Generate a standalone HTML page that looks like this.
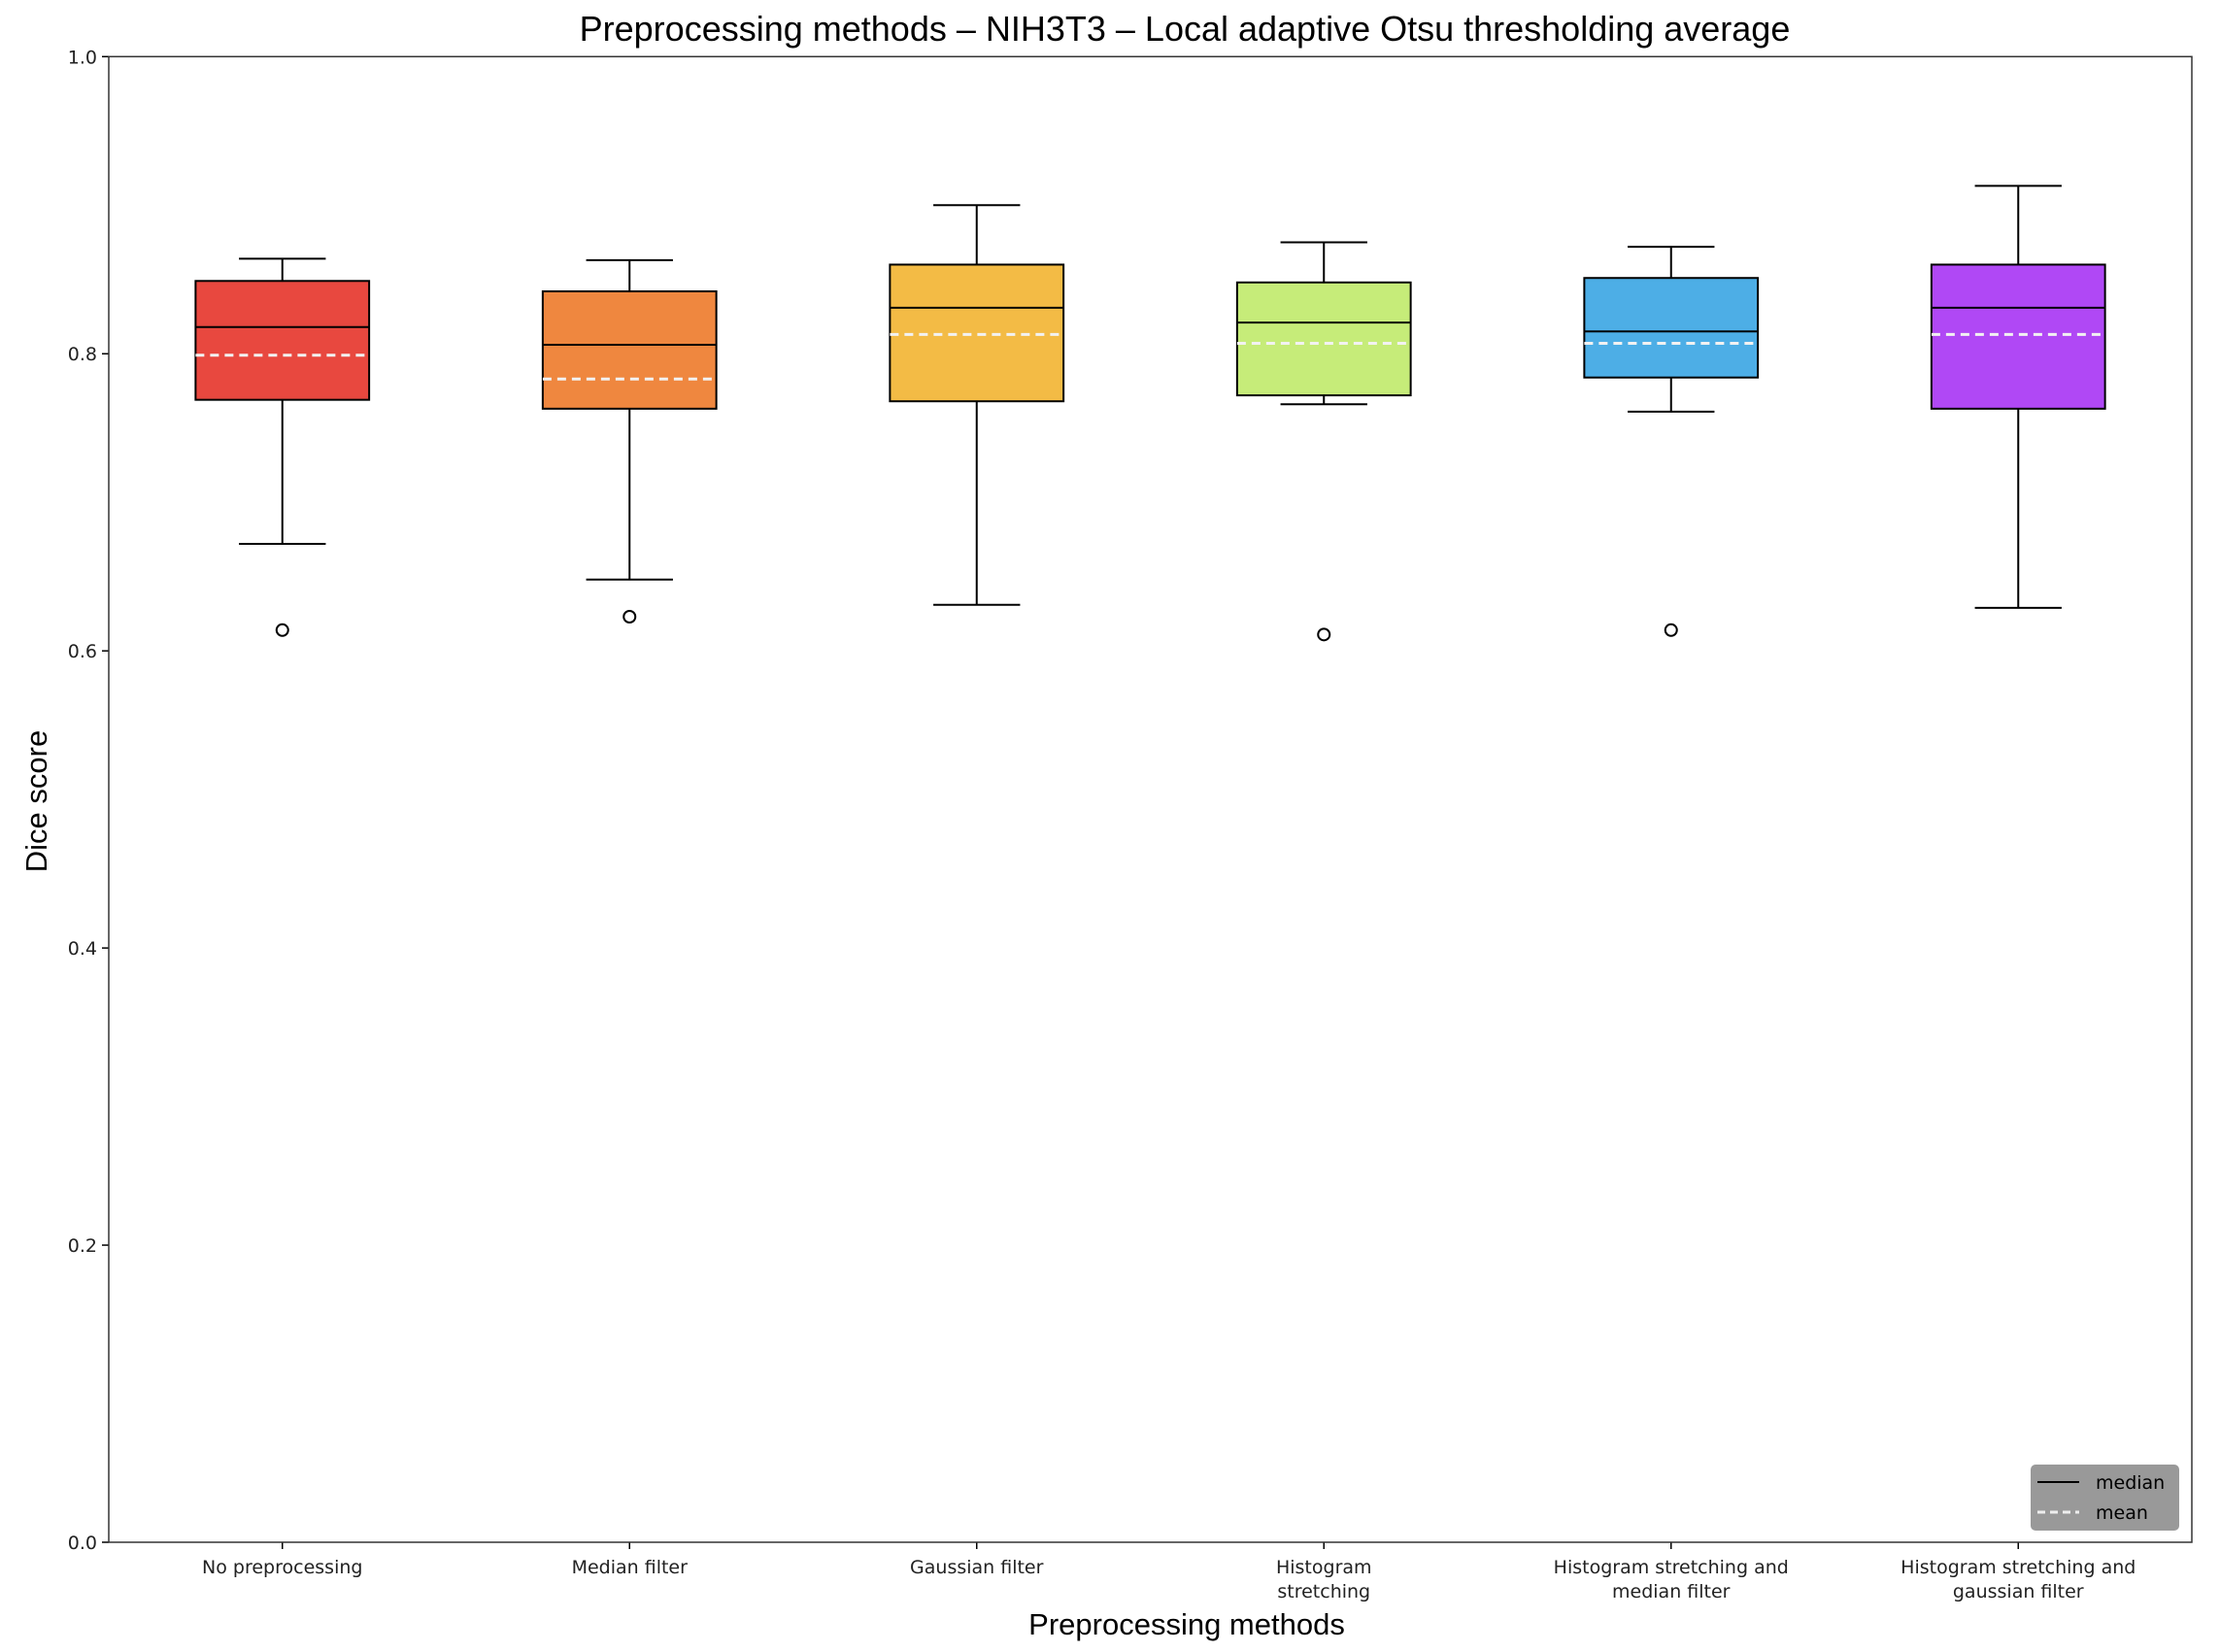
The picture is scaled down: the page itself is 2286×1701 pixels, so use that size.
<!DOCTYPE html>
<html><head><meta charset="utf-8"><style>
body{margin:0;background:#fff;}
svg text{font-family:"DejaVu Sans","Liberation Sans",sans-serif;}
</style></head><body>
<svg id="chart" width="2286" height="1696" xmlns="http://www.w3.org/2000/svg">
<rect width="2286" height="1696" fill="#fff"/>
<text x="1220" y="42" text-anchor="middle" font-size="36" style="font-family:'Liberation Sans',sans-serif" fill="#000">Preprocessing methods – NIH3T3 – Local adaptive Otsu thresholding average</text>
<g id="plot"></g>
<text x="1222" y="1683" text-anchor="middle" font-size="31" style="font-family:'Liberation Sans',sans-serif">Preprocessing methods</text>
<text transform="translate(48,825) rotate(-90)" text-anchor="middle" font-size="31" style="font-family:'Liberation Sans',sans-serif">Dice score</text>
<g>
<rect x="2091" y="1508" width="153" height="68" rx="5" fill="#999"/>
<line x1="2098" y1="1526" x2="2141" y2="1526" stroke="#000" stroke-width="2"/>
<text x="2158" y="1533" font-size="19" fill="#000">median</text>
<line x1="2098" y1="1557" x2="2141" y2="1557" stroke="#eee" stroke-width="3" stroke-dasharray="8,5"/>
<text x="2158" y="1564" font-size="19" fill="#000">mean</text>
</g>
</svg>
<script>
const categories=[["No preprocessing"],["Median filter"],["Gaussian filter"],["Histogram","stretching"],["Histogram stretching and","median filter"],["Histogram stretching and","gaussian filter"]];
const whiskerHigh=[0.864,0.863,0.900,0.875,0.872,0.913];
const q3=[0.849,0.842,0.860,0.848,0.851,0.860];
const medians=[0.818,0.806,0.831,0.821,0.815,0.831];
const means=[0.799,0.783,0.813,0.807,0.807,0.813];
const q1=[0.769,0.763,0.768,0.772,0.784,0.763];
const whiskerLow=[0.672,0.648,0.631,0.766,0.761,0.629];
const outliers=[[0.614],[0.623],[],[0.611],[0.614],[]];
const colors=["#e8483f","#ef873f","#f3bb45","#c6ec79","#4daee6","#b048f5"];
const yTicks=[0,0.2,0.4,0.6,0.8,1.0];
const L=112,R=2257,T=58.3,B=1588;
const ys=v=>B-(v-0)/(1-0)*(B-T);
const xs=i=>L+(i+1-0.5)/6*(R-L);
const NS="http://www.w3.org/2000/svg";
const g=document.getElementById('plot');
function mk(tag,attrs,parent){const e=document.createElementNS(NS,tag);for(const k in attrs)e.setAttribute(k,attrs[k]);(parent||g).appendChild(e);return e;}
const unit=(R-L)/6;
categories.forEach((c,i)=>{
  const cx=xs(i),hw=unit*0.25,cw=unit*0.125;
  const grp=mk('g',{});
  
  
  mk('line',{x1:cx,x2:cx,y1:ys(whiskerHigh[i]),y2:ys(q3[i]),stroke:'#000','stroke-width':2},grp);
  mk('line',{x1:cx,x2:cx,y1:ys(q1[i]),y2:ys(whiskerLow[i]),stroke:'#000','stroke-width':2},grp);
  mk('line',{x1:cx-cw,x2:cx+cw,y1:ys(whiskerHigh[i]),y2:ys(whiskerHigh[i]),stroke:'#000','stroke-width':2},grp);
  mk('line',{x1:cx-cw,x2:cx+cw,y1:ys(whiskerLow[i]),y2:ys(whiskerLow[i]),stroke:'#000','stroke-width':2},grp);
  mk('rect',{x:cx-hw,y:ys(q3[i]),width:2*hw,height:ys(q1[i])-ys(q3[i]),fill:colors[i],stroke:'#000','stroke-width':2},grp);
  mk('line',{x1:cx-hw,x2:cx+hw,y1:ys(medians[i]),y2:ys(medians[i]),stroke:'#000','stroke-width':2},grp);
  mk('line',{x1:cx-hw,x2:cx+hw,y1:ys(means[i]),y2:ys(means[i]),stroke:'#f2f2f2','stroke-width':3,'stroke-dasharray':'9,6'},grp);
  outliers[i].forEach(o=>{
    const c2=mk('circle',{cx:cx,cy:ys(o),r:6,fill:'none',stroke:'#000','stroke-width':2},grp);
    
    
  });
  mk('line',{x1:cx,x2:cx,y1:B,y2:B+7,stroke:'#000','stroke-width':1.5});
  const t=mk('text',{x:cx,y:1620,'text-anchor':'middle','font-size':19,fill:'#222'});
  
  
  c.forEach((ln,k)=>{const s=mk('tspan',{x:cx,dy:k?25:0},t);s.textContent=ln;});
});
yTicks.forEach(v=>{
  mk('line',{x1:L-7,x2:L,y1:ys(v),y2:ys(v),stroke:'#000','stroke-width':1.5});
  const t=mk('text',{x:L-12,y:ys(v)+7,'text-anchor':'end','font-size':19,fill:'#222'});
  
  
  t.textContent=v.toFixed(1);
});
const fr=mk('rect',{x:L,y:T,width:R-L,height:B-T,fill:'none',stroke:'#333','stroke-width':1.5});


</script>
</body></html>
